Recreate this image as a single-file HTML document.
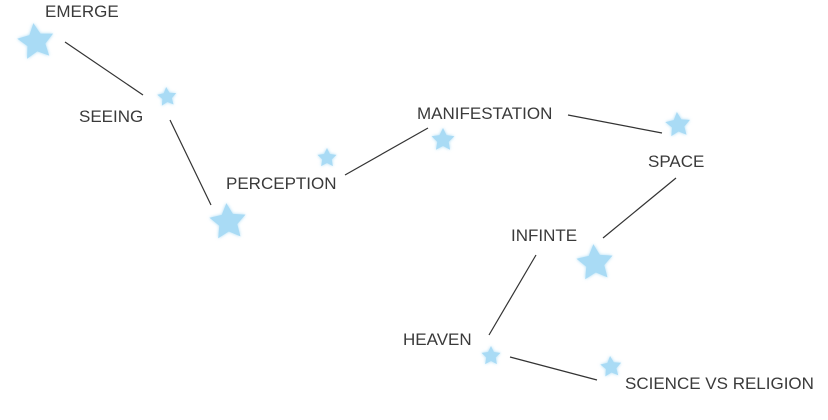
<!DOCTYPE html>
<html><head><meta charset="utf-8"><style>
html,body{margin:0;padding:0;background:#fff;width:828px;height:420px;overflow:hidden}
svg text{font-family:"Liberation Sans",sans-serif;font-size:17px;fill:#3a3a3a}
</style></head><body>
<svg width="828" height="420" viewBox="0 0 828 420" xmlns="http://www.w3.org/2000/svg">
<defs>
<filter id="g" x="-50%" y="-50%" width="200%" height="200%"><feGaussianBlur in="SourceGraphic" stdDeviation="1.6" result="b"/><feMerge><feMergeNode in="b"/><feMergeNode in="SourceGraphic"/></feMerge></filter>
<polygon id="s" points="0,-1 0.294,-0.405 0.951,-0.309 0.476,0.155 0.588,0.809 0,0.5 -0.588,0.809 -0.476,0.155 -0.951,-0.309 -0.294,-0.405"/>
</defs>
<g stroke="#333" stroke-width="1.2">
<line x1="65" y1="42" x2="143" y2="95"/>
<line x1="170" y1="120" x2="211" y2="205"/>
<line x1="345" y1="175" x2="428" y2="128"/>
<line x1="568" y1="115" x2="662" y2="133"/>
<line x1="676" y1="178" x2="603" y2="238"/>
<line x1="536" y1="255" x2="489" y2="335"/>
<line x1="510" y1="357" x2="597" y2="380"/>
</g>
<g fill="#a9dbf5" filter="url(#g)">
<use href="#s" transform="translate(36,42) rotate(-8) scale(19)"/>
<use href="#s" transform="translate(167,97) rotate(-5) scale(10)"/>
<use href="#s" transform="translate(228,222) rotate(-5) scale(19)"/>
<use href="#s" transform="translate(327,158) scale(10)"/>
<use href="#s" transform="translate(443,140) scale(12)"/>
<use href="#s" transform="translate(678,125) rotate(-5) scale(13)"/>
<use href="#s" transform="translate(595,263) rotate(-5) scale(19)"/>
<use href="#s" transform="translate(491,356) scale(10)"/>
<use href="#s" transform="translate(611,367) rotate(-5) scale(11)"/>
</g>
<text x="45" y="17">EMERGE</text>
<text x="79" y="122">SEEING</text>
<text x="226" y="189">PERCEPTION</text>
<text x="417" y="119">MANIFESTATION</text>
<text x="648" y="167">SPACE</text>
<text x="511" y="241">INFINTE</text>
<text x="403" y="345">HEAVEN</text>
<text x="625" y="389">SCIENCE VS RELIGION</text>
</svg>
</body></html>
